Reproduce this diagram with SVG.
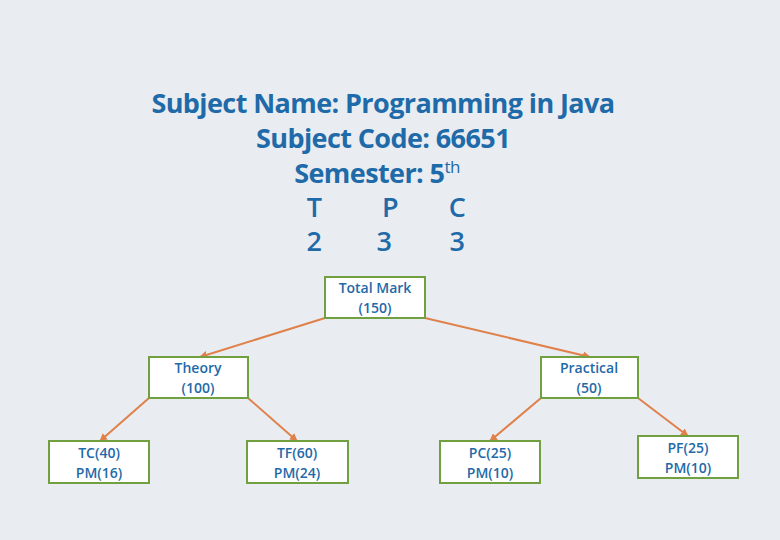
<svg xmlns="http://www.w3.org/2000/svg" width="780" height="540" viewBox="0 0 780 540">
<style>
.t{font-family:"Open Sans","Liberation Sans",sans-serif;font-weight:bold;fill:#1f6aa8;text-anchor:middle}
.h{font-size:27px;letter-spacing:-0.6px}
.n{font-size:14px;font-weight:600}
.b{fill:#fff;stroke:#70a040;stroke-width:2}
.c{stroke:#e0804a;stroke-width:2;fill:none;marker-end:url(#a)}
</style>
<defs><marker id="a" viewBox="0 0 10 10" refX="9" refY="5" markerWidth="4" markerHeight="4" orient="auto"><path d="M0,0L10,5L0,10z" fill="#e0804a"/></marker></defs>
<rect width="780" height="540" fill="#e9edf1"/>
<g id="title" class="t h">
<text x="383" y="113">Subject Name: Programming in Java</text>
<text x="383" y="148">Subject Code: 66651</text>
<text x="377" y="183">Semester: 5<tspan font-size="17" font-weight="normal" dy="-10">th</tspan></text>
<g font-weight="600"><text x="314" y="217">T</text><text x="390" y="217">P</text><text x="457" y="217">C</text>
<text x="314" y="251">2</text><text x="384" y="251">3</text><text x="457" y="251">3</text></g>
</g>
<g id="connectors">
<path class="c" d="M325,318L200,357"/>
<path class="c" d="M425,318L590,357"/>
<path class="c" d="M149,398L100,441"/>
<path class="c" d="M248,398L297,441"/>
<path class="c" d="M541,398L490,441"/>
<path class="c" d="M638,398L688,436"/>
</g>
<g id="total"><rect class="b" x="325" y="277" width="100" height="41"/><text class="t n" x="375" y="293">Total Mark</text><text class="t n" x="375" y="313">(150)</text></g>
<g id="theory"><rect class="b" x="149" y="357" width="99" height="41"/><text class="t n" x="198" y="373">Theory</text><text class="t n" x="198" y="393">(100)</text></g>
<g id="practical"><rect class="b" x="541" y="357" width="97" height="41"/><text class="t n" x="589" y="373">Practical</text><text class="t n" x="589" y="393">(50)</text></g>
<g id="tc"><rect class="b" x="49" y="441" width="100" height="42"/><text class="t n" x="99" y="458">TC(40)</text><text class="t n" x="99" y="478">PM(16)</text></g>
<g id="tf"><rect class="b" x="247" y="441" width="101" height="42"/><text class="t n" x="297" y="458">TF(60)</text><text class="t n" x="297" y="478">PM(24)</text></g>
<g id="pc"><rect class="b" x="440" y="441" width="100" height="42"/><text class="t n" x="490" y="458">PC(25)</text><text class="t n" x="490" y="478">PM(10)</text></g>
<g id="pf"><rect class="b" x="638" y="436" width="100" height="42"/><text class="t n" x="688" y="453">PF(25)</text><text class="t n" x="688" y="473">PM(10)</text></g>
</svg>
